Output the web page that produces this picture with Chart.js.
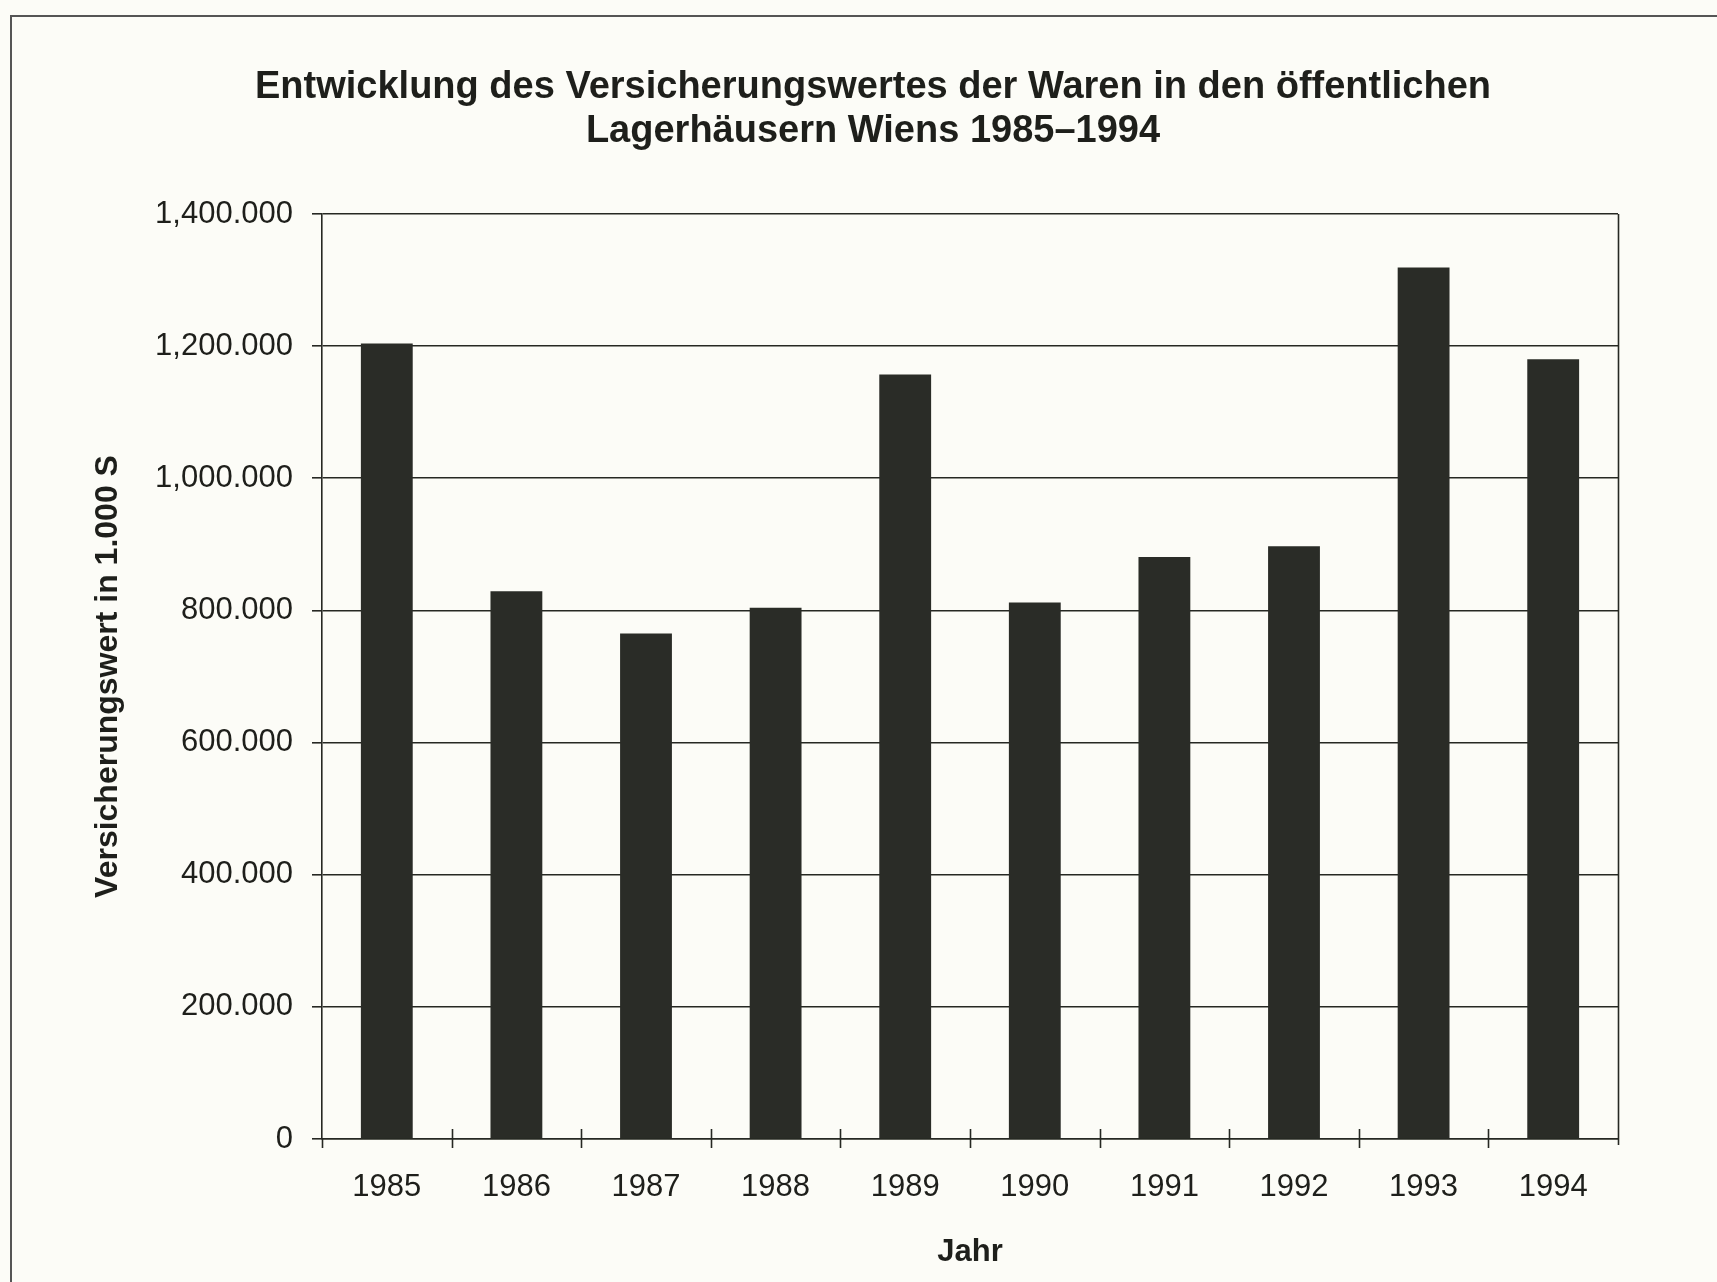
<!DOCTYPE html>
<html><head><meta charset="utf-8">
<script src="https://cdn.jsdelivr.net/npm/chart.js@4/dist/chart.umd.min.js"></script>
<style>
html,body{margin:0;padding:0;background:#fcfcf7;}
#wrap{position:relative;width:1717px;height:1282px;overflow:hidden;}
#frameTop{position:absolute;left:10px;top:15px;width:1707px;height:2px;background:#555;}
#frameLeft{position:absolute;left:10px;top:15px;width:2px;height:1267px;background:#555;}
canvas{position:absolute;left:0;top:0;}
</style></head><body>
<div id="wrap"><div id="frameTop"></div><div id="frameLeft"></div><canvas id="c" width="1717" height="1282"></canvas></div>
<script>
const titleLines = ['Entwicklung des Versicherungswertes der Waren in den öffentlichen', 'Lagerhäusern Wiens 1985–1994'];
const years = ['1985','1986','1987','1988','1989','1990','1991','1992','1993','1994'];
const values = [1204000, 829000, 765000, 804000, 1157000, 812000, 881000, 897000, 1319000, 1180000];
const yMin = 0, yMax = 1400000, yStep = 200000;
const yAxisTitle = 'Versicherungswert in 1.000 S';
const xAxisTitle = 'Jahr';

const FONT = '"Liberation Sans", Arial, Helvetica, sans-serif';
const INK = '#262823';

function fmt(v){
  if (v === 0) return '0';
  const m = Math.floor(v / 1e6);
  const t = Math.round((v % 1e6) / 1000);
  return m > 0 ? m + ',' + String(t).padStart(3, '0') + '.000' : t + '.000';
}

const frameTicks = {
  id: 'frameTicks',
  afterDraw(chart){
    const xs = chart.scales.x, ys = chart.scales.y, ctx = chart.ctx;
    const half = (xs.getPixelForValue(1) - xs.getPixelForValue(0)) / 2;
    const bottom = ys.getPixelForValue(yMin), top = ys.getPixelForValue(yMax);
    ctx.save();
    ctx.strokeStyle = INK; ctx.lineWidth = 1.6;
    for (let i = 0; i <= years.length; i++) {
      const px = Math.round(xs.getPixelForValue(0) - half + i * 2 * half) + 0.5;
      ctx.beginPath();
      if (i === years.length) { ctx.moveTo(px, top); ctx.lineTo(px, bottom + 6); }
      else if (i === 0) { ctx.moveTo(px, bottom); ctx.lineTo(px, bottom + 9); }
      else { ctx.moveTo(px, bottom - 10); ctx.lineTo(px, bottom + 9); }
      ctx.stroke();
    }
    ctx.restore();
  }
};

new Chart(document.getElementById('c'), {
  type: 'bar',
  data: { labels: years, datasets: [{ data: values, backgroundColor: '#2a2c27', borderWidth: 0, barPercentage: 0.4, categoryPercentage: 1.0 }] },
  plugins: [frameTicks],
  options: {
    responsive: false, animation: false, devicePixelRatio: 1,
    layout: { padding: { left: 128, right: 99, top: 20, bottom: 0 } },
    plugins: {
      legend: { display: false }, tooltip: { enabled: false },
      title: { display: true, text: titleLines, color: '#1e1f1b',
        font: { family: FONT, size: 38, weight: 'bold', lineHeight: 1.158 },
        padding: { top: 46, bottom: 60 } }
    },
    scales: {
      x: {
        grid: { display: false },
        border: { display: true, color: INK, width: 1.6 },
        ticks: { color: '#1e1f1b', font: { family: FONT, size: 31 }, padding: 22, maxRotation: 0 },
        title: { display: true, text: xAxisTitle, color: '#1e1f1b', font: { family: FONT, size: 31, weight: 'bold' }, padding: { top: 0, bottom: 11 } },
        afterFit(s){ s.height = 143; }
      },
      y: {
        min: yMin, max: yMax,
        grid: { color: INK, lineWidth: 1.6, tickLength: 10, drawTicks: true },
        border: { display: true, color: INK, width: 1.6 },
        ticks: { stepSize: yStep, color: '#1e1f1b', font: { family: FONT, size: 31 }, padding: 19, callback: v => fmt(v) },
        title: { display: true, text: yAxisTitle, color: '#1e1f1b', font: { family: FONT, size: 32, weight: 'bold' }, padding: { top: -39, bottom: 0 } },
        afterFit(s){ s.width = 194; }
      }
    }
  }
});
</script></body></html>
